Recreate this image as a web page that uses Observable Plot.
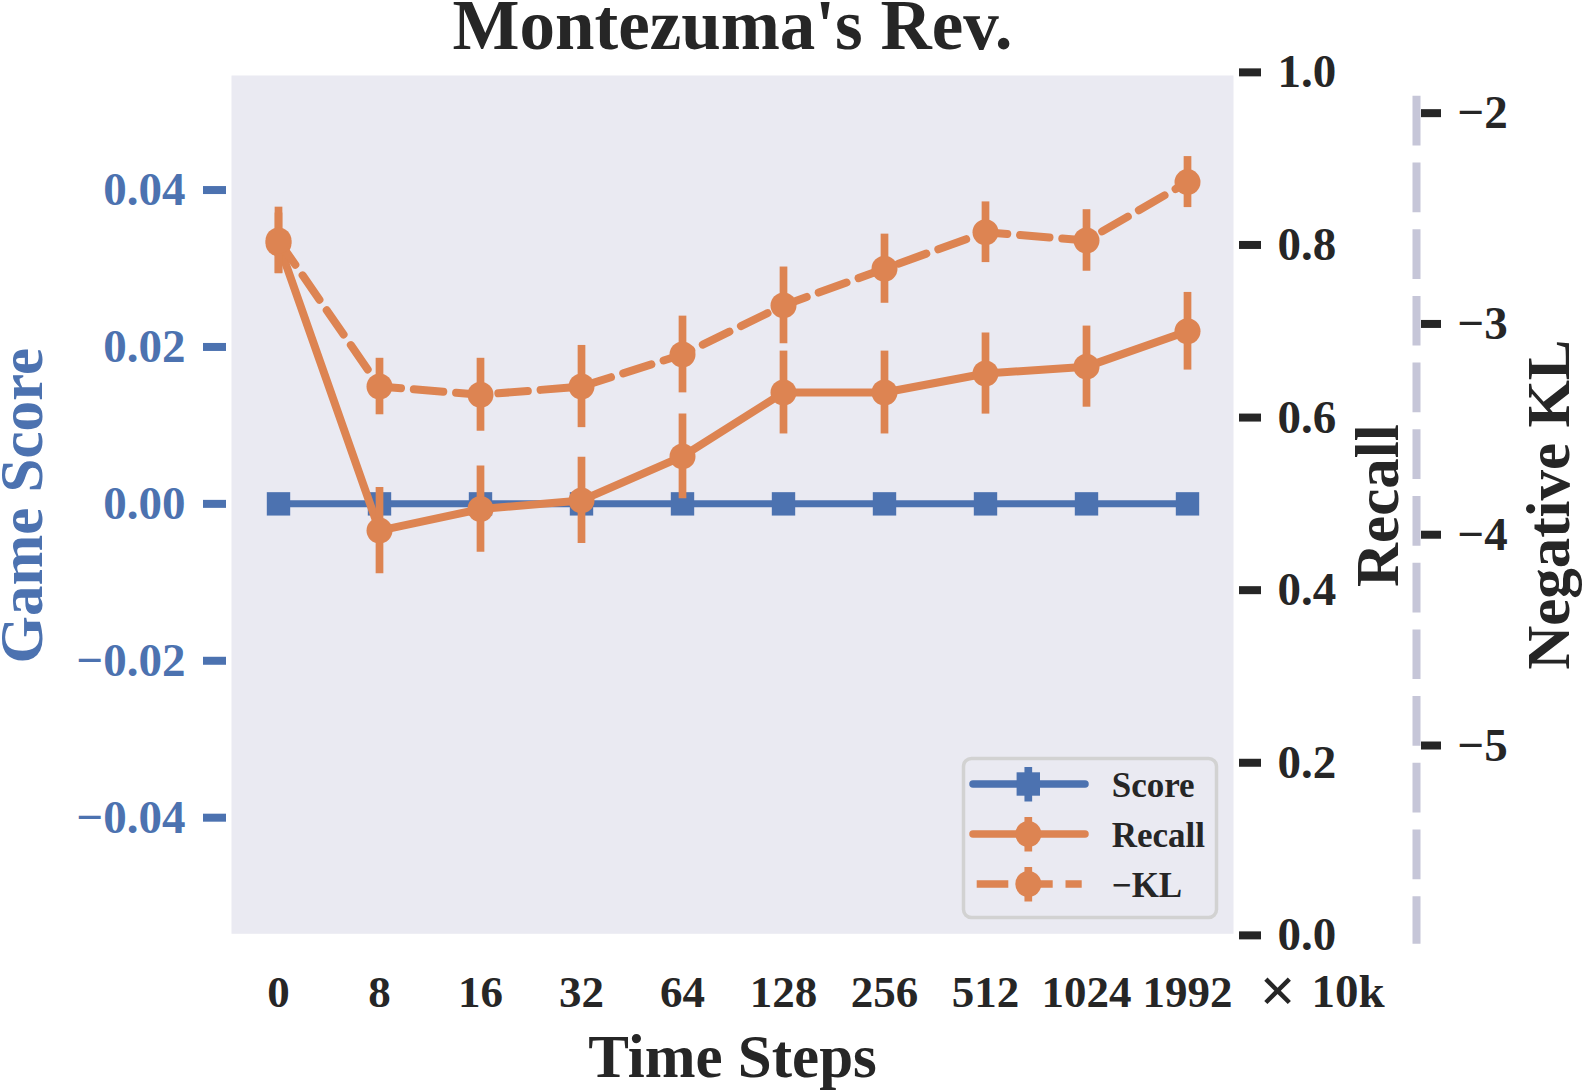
<!DOCTYPE html>
<html>
<head>
<meta charset="utf-8">
<script src="https://cdn.jsdelivr.net/npm/d3@7"></script>
<script src="https://cdn.jsdelivr.net/npm/@observablehq/plot@0.6"></script>
<style>
  html, body { margin: 0; padding: 0; background: #ffffff; }
  #wrap { position: relative; width: 1582px; height: 1090px; }
  #wrap svg { position: absolute; left: 0; top: 0; }
</style>
</head>
<body>
<div id="wrap"></div>
<script>
// ---- data ----
const steps = ["0", "8", "16", "32", "64", "128", "256", "512", "1024", "1992"];
const score = [0, 0, 0, 0, 0, 0, 0, 0, 0, 0];
const recall = [0.802, 0.469, 0.494, 0.504, 0.555, 0.629, 0.629, 0.651, 0.659, 0.700];
const recallErr = [0.035, 0.050, 0.050, 0.050, 0.049, 0.048, 0.048, 0.047, 0.047, 0.045];
const negKL = [-2.604, -3.297, -3.336, -3.297, -3.145, -2.912, -2.738, -2.565, -2.604, -2.327];
const negKLErr = [0.158, 0.134, 0.173, 0.195, 0.182, 0.182, 0.164, 0.144, 0.146, 0.121];
const scoreTicks = [-0.04, -0.02, 0.00, 0.02, 0.04];
const recallTicks = [0.0, 0.2, 0.4, 0.6, 0.8, 1.0];
const klTicks = [-5, -4, -3, -2];
const legendLabels = ["Score", "Recall", "\u2212KL"];

// ---- style ----
const blue = "#4C72B0", orange = "#DD8452", ink = "#262626", bg = "#EAEAF2";
const font = "'Liberation Serif', 'Times New Roman', serif";

// secondary axes expressed in the primary (score) scale space
const recallToY = d3.scaleLinear([0, 1], [-0.0550, 0.0550]);
const klToY = d3.scaleLinear([-5, -2], [-0.0308, 0.0498]);

const rows = steps.map((s, i) => ({
  step: s, score: score[i],
  recall: recall[i], rErr: recallErr[i],
  kl: negKL[i], kErr: negKLErr[i]
}));

const minus = v => (v < 0 ? "\u2212" : "") + Math.abs(v);

const chart = Plot.plot({
  width: 1582, height: 1090,
  marginLeft: 231, marginRight: 349, marginTop: 75, marginBottom: 156.7,
  style: {fontFamily: font, fontWeight: "bold", background: "transparent", overflow: "visible"},
  x: {type: "point", domain: steps, padding: 0.43},
  y: {domain: [-0.0548, 0.0546]},
  marks: [
    Plot.frame({fill: bg, stroke: null}),
    // offset dashed spine of the Negative KL axis
    Plot.frame({anchor: "right", dx: 183, insetTop: 24.3, insetBottom: -6,
      stroke: "#C6C6D8", strokeWidth: 8, strokeDasharray: "41.7,25"}),
    Plot.axisX({tickSize: 0, tickPadding: 41.5, fontSize: 45, fontWeight: "bold", fill: ink, label: null}),
    Plot.axisY({anchor: "left", ticks: scoreTicks, tickSize: 23, tickPadding: 18, dx: -5,
      strokeWidth: 8, stroke: blue, fill: blue, fontSize: 47, fontWeight: "bold", label: null,
      tickFormat: d => (d < 0 ? "\u2212" : "") + Math.abs(d).toFixed(2)}),
    Plot.axisY({anchor: "right", ticks: recallTicks.map(recallToY), tickSize: 22, tickPadding: 17, dx: 5,
      strokeWidth: 8, stroke: ink, fill: ink, fontSize: 47, fontWeight: "bold", label: null,
      tickFormat: d => recallToY.invert(d).toFixed(1)}),
    Plot.axisY({anchor: "right", ticks: klTicks.map(klToY), tickSize: 20, tickPadding: 17, dx: 187,
      strokeWidth: 8, stroke: ink, fill: ink, fontSize: 47, fontWeight: "bold", label: null,
      tickFormat: d => minus(Math.round(klToY.invert(d)))}),
    // Score
    Plot.line(rows, {x: "step", y: "score", stroke: blue, strokeWidth: 7, strokeLinejoin: "round"}),
    Plot.dot(rows, {x: "step", y: "score", symbol: "square", r: 13.2, fill: blue, stroke: null}),
    // Recall
    Plot.line(rows, {x: "step", y: d => recallToY(d.recall), stroke: orange, strokeWidth: 8, strokeLinejoin: "round"}),
    Plot.ruleX(rows, {x: "step", y1: d => recallToY(d.recall - d.rErr), y2: d => recallToY(d.recall + d.rErr),
      stroke: orange, strokeWidth: 7.7}),
    Plot.dot(rows, {x: "step", y: d => recallToY(d.recall), r: 13, fill: orange, stroke: null}),
    // -KL
    Plot.line(rows, {x: "step", y: d => klToY(d.kl), stroke: orange, strokeWidth: 8,
      strokeDasharray: "29.6,12.8", strokeLinejoin: "round"}),
    Plot.ruleX(rows, {x: "step", y1: d => klToY(d.kl - d.kErr), y2: d => klToY(d.kl + d.kErr),
      stroke: orange, strokeWidth: 7.7}),
    Plot.dot(rows, {x: "step", y: d => klToY(d.kl), r: 13, fill: orange, stroke: null}),
    // texts
    Plot.text(["Montezuma's Rev."], {text: d => d, frameAnchor: "top", lineAnchor: "bottom", dy: -26.7,
      fontSize: 71, fontWeight: "bold", fill: ink}),
    Plot.text(["Time Steps"], {text: d => d, frameAnchor: "bottom", lineAnchor: "bottom", dy: 143.4,
      fontSize: 61, fontWeight: "bold", fill: ink}),
    Plot.text(["\u00d7"], {text: d => d, frameAnchor: "bottom-right", textAnchor: "start", lineAnchor: "middle",
      dx: 26, dy: 57.5, fontSize: 64, fontWeight: "bold", fill: ink}),
    Plot.text(["10k"], {text: d => d, frameAnchor: "bottom-right", textAnchor: "start", lineAnchor: "bottom",
      dx: 78, dy: 73.4, fontSize: 47, fontWeight: "bold", fill: ink}),
    Plot.text(["Game Score"], {text: d => d, frameAnchor: "left", textAnchor: "middle", rotate: -90, lineAnchor: "bottom",
      dx: -189.3, dy: 1, fontSize: 61, fontWeight: "bold", fill: blue}),
    Plot.text(["Recall"], {text: d => d, frameAnchor: "right", textAnchor: "middle", rotate: -90, lineAnchor: "bottom",
      dx: 164, dy: 1, fontSize: 61, fontWeight: "bold", fill: ink}),
    Plot.text(["Negative KL"], {text: d => d, frameAnchor: "right", textAnchor: "middle", rotate: -90, lineAnchor: "bottom",
      dx: 335, dy: 0, fontSize: 61, fontWeight: "bold", fill: ink})
  ]
});
document.getElementById("wrap").appendChild(chart);

// ---- legend ----
const lg = d3.select("#wrap").append("svg")
  .attr("width", 1582).attr("height", 1090)
  .style("pointer-events", "none");
lg.append("rect").attr("x", 963.5).attr("y", 758.5).attr("width", 253).attr("height", 159)
  .attr("rx", 8).attr("fill", bg).attr("stroke", "#D2D2D2").attr("stroke-width", 3.5);
const rowY = [784, 834, 884];
const colors = [blue, orange, orange];
rowY.forEach((y, i) => {
  const g = lg.append("g");
  const ln = g.append("line").attr("x1", 976.7).attr("x2", 1081.7).attr("y1", y).attr("y2", y)
    .attr("stroke", colors[i]).attr("stroke-width", 7.5);
  if (i === 2) ln.attr("stroke-dasharray", "31.6,12.8");
  else ln.attr("stroke-linecap", "round").attr("x1", 973).attr("x2", 1085);
  g.append("line").attr("x1", 1028.3).attr("x2", 1028.3).attr("y1", y - 17).attr("y2", y + 17.5)
    .attr("stroke", colors[i]).attr("stroke-width", 7.7);
  if (i === 0) g.append("rect").attr("x", 1028.3 - 11.7).attr("y", y - 11.7).attr("width", 23.4).attr("height", 23.4).attr("fill", blue);
  else g.append("circle").attr("cx", 1028.3).attr("cy", y).attr("r", 13).attr("fill", orange);
  g.append("text").attr("x", 1111.7).attr("y", y + 12.5).text(legendLabels[i])
    .attr("font-family", font).attr("font-weight", "bold").attr("font-size", 35).attr("fill", ink);
});
</script>
</body>
</html>
